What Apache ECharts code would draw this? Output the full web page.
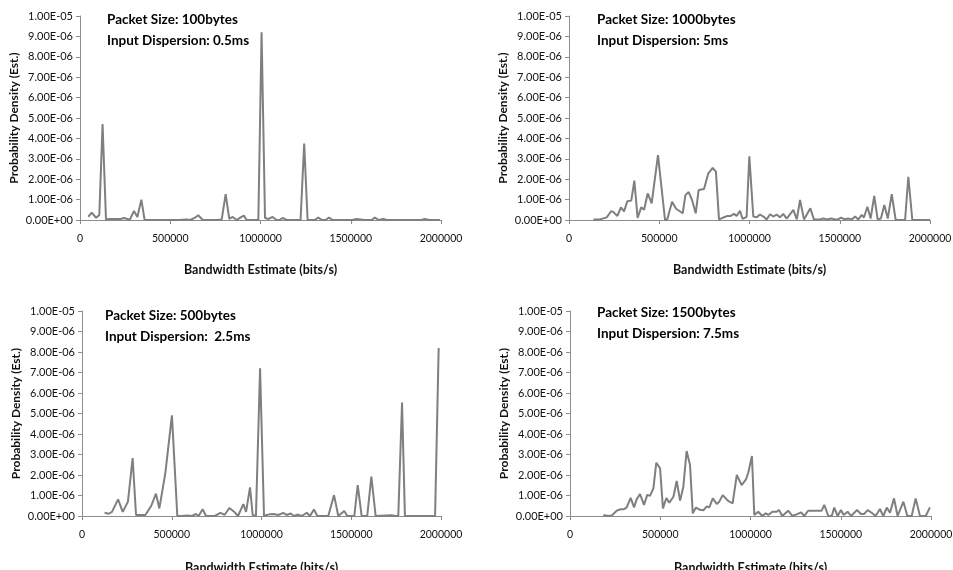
<!DOCTYPE html>
<html>
<head>
<meta charset="utf-8">
<script src="https://cdn.jsdelivr.net/npm/echarts@6/dist/echarts.min.js"></script>
<style>
  html, body { margin: 0; padding: 0; background: #fff; }
  #chart { width: 953px; height: 570px; }
</style>
</head>
<body>
<div id="chart"></div>
<script>
// densities are in units of 1e-6 (axis labels show the real value)
const xTicks = [0, 500000, 1000000, 1500000, 2000000]

const panelLabels = [
  ['Packet Size: 100bytes', 'Input Dispersion: 0.5ms'],
  ['Packet Size: 1000bytes', 'Input Dispersion: 5ms'],
  ['Packet Size: 500bytes', 'Input Dispersion:  2.5ms'],
  ['Packet Size: 1500bytes', 'Input Dispersion: 7.5ms']
]

const pkt100 = [
  [46000, 0.16], [65000, 0.36], [89000, 0.11], [107000, 0.25], [125000, 4.7], [144000, 0.03],
  [165000, 0.05], [185000, 0.05], [205000, 0.05], [225000, 0.05], [244000, 0.1], [262000, 0.05],
  [277000, 0.03], [299000, 0.44], [318000, 0.15], [340000, 1.0], [358000, 0], [400000, 0],
  [450000, 0], [500000, 0], [550000, 0], [591000, 0.03], [610000, 0], [635000, 0.1],
  [655000, 0.23], [680000, 0], [720000, 0], [760000, 0], [785000, 0.03], [807000, 1.27],
  [827000, 0.05], [846000, 0.15], [868000, 0], [888000, 0.12], [908000, 0.22], [923000, 0],
  [988000, 0], [1006000, 9.2], [1025000, 0.1], [1045000, 0.05], [1067000, 0.15], [1089000, 0],
  [1106000, 0], [1122000, 0.1], [1145000, 0], [1222000, 0], [1242000, 3.75], [1261000, 0],
  [1300000, 0], [1320000, 0.12], [1340000, 0], [1360000, 0], [1379000, 0.12], [1400000, 0],
  [1510000, 0], [1532000, 0.05], [1555000, 0.03], [1575000, 0], [1615000, 0], [1634000, 0.12],
  [1655000, 0], [1680000, 0.05], [1700000, 0], [1890000, 0], [1911000, 0.05], [1935000, 0],
  [1994000, 0]
]

const pkt1000 = [
  [135000, 0.03], [172000, 0.03], [209000, 0.13], [233000, 0.43], [245000, 0.4], [268000, 0.2],
  [288000, 0.62], [305000, 0.42], [323000, 0.92], [345000, 0.95], [362000, 1.93], [380000, 0.1],
  [400000, 0.62], [416000, 0.5], [436000, 1.3], [458000, 0.82], [493000, 3.18], [532000, 0],
  [545000, 0.05], [571000, 0.9], [593000, 0.55], [630000, 0.33], [645000, 1.22], [663000, 1.37],
  [681000, 1.0], [702000, 0.33], [718000, 1.47], [748000, 1.52], [772000, 2.29], [796000, 2.56],
  [814000, 2.37], [831000, 0.03], [855000, 0.12], [879000, 0.2], [896000, 0.2], [914000, 0.3],
  [929000, 0.2], [947000, 0.45], [962000, 0.05], [984000, 0.15], [999000, 3.12], [1021000, 0.17],
  [1040000, 0.13], [1058000, 0.27], [1077000, 0.17], [1095000, 0.03], [1114000, 0.28],
  [1132000, 0.17], [1150000, 0.27], [1169000, 0.13], [1187000, 0.3], [1206000, 0.07],
  [1243000, 0.5], [1262000, 0.03], [1280000, 0.98], [1302000, 0.03], [1337000, 0.57],
  [1357000, 0.03], [1390000, 0.03], [1409000, 0.07], [1430000, 0.03], [1452000, 0.07],
  [1475000, 0.03], [1490000, 0.03], [1507000, 0.12], [1525000, 0.04], [1548000, 0.07],
  [1567000, 0.03], [1585000, 0.17], [1603000, 0.03], [1622000, 0.25], [1634000, 0.12],
  [1653000, 0.65], [1671000, 0.07], [1691000, 1.18], [1710000, 0.03], [1728000, 0.07],
  [1747000, 0.73], [1766000, 0.07], [1788000, 1.27], [1810000, 0], [1862000, 0], [1880000, 2.12],
  [1902000, 0], [2000000, 0]
]

const pkt500 = [
  [126000, 0.16], [149000, 0.11], [167000, 0.2], [201000, 0.81], [227000, 0.2], [256000, 0.7],
  [282000, 2.83], [301000, 0.05], [330000, 0.05], [353000, 0.05], [386000, 0.5], [412000, 1.09],
  [431000, 0.37], [464000, 2.08], [501000, 4.91], [531000, 0], [557000, 0], [585000, 0.03],
  [613000, 0], [635000, 0.1], [650000, 0], [672000, 0.33], [691000, 0], [740000, 0],
  [771000, 0.15], [795000, 0.06], [821000, 0.39], [851000, 0.18], [869000, 0], [899000, 0.58],
  [914000, 0.2], [936000, 1.4], [951000, 0.05], [969000, 0], [992000, 7.2], [1014000, 0],
  [1029000, 0.05], [1046000, 0.08], [1066000, 0.1], [1094000, 0.05], [1121000, 0.15],
  [1140000, 0.05], [1163000, 0.12], [1181000, 0], [1200000, 0.07], [1224000, 0],
  [1252000, 0.16], [1270000, 0], [1292000, 0.32], [1311000, 0], [1372000, 0], [1404000, 1.02],
  [1428000, 0], [1461000, 0.24], [1478000, 0], [1517000, 0], [1536000, 1.51], [1558000, 0],
  [1589000, 0], [1612000, 1.92], [1636000, 0], [1725000, 0.04], [1744000, 0], [1762000, 0],
  [1783000, 5.53], [1799000, 0], [1967000, 0], [1987000, 8.2]
]

const pkt1500 = [
  [185000, 0.05], [212000, 0], [231000, 0.02], [259000, 0.26], [281000, 0.33], [299000, 0.33],
  [314000, 0.42], [336000, 0.88], [355000, 0.42], [369000, 0.81], [388000, 1.07], [410000, 0.54],
  [428000, 1.03], [443000, 0.98], [462000, 1.35], [478000, 2.6], [499000, 2.33], [515000, 0.37],
  [534000, 0.88], [550000, 0.65], [573000, 0.94], [591000, 1.71], [610000, 0.75], [628000, 1.43],
  [646000, 3.17], [665000, 2.49], [680000, 0.13], [698000, 0.41], [720000, 0.3], [739000, 0.28],
  [757000, 0.46], [772000, 0.42], [791000, 0.86], [813000, 0.59], [827000, 0.7], [846000, 1.02],
  [868000, 0.81], [883000, 0.7], [901000, 0.62], [924000, 2.0], [933000, 2.05], [951000, 1.51],
  [975000, 1.79], [988000, 2.12], [1008000, 2.93], [1021000, 0.05], [1043000, 0.21],
  [1066000, 0], [1084000, 0.13], [1099000, 0.05], [1121000, 0.21], [1145000, 0.21],
  [1158000, 0.29], [1176000, 0], [1209000, 0.26], [1232000, 0], [1256000, 0.08],
  [1280000, 0.18], [1298000, 0], [1320000, 0.26], [1394000, 0.26], [1409000, 0.54],
  [1431000, 0], [1450000, 0], [1464000, 0.41], [1483000, 0], [1501000, 0.29], [1516000, 0.05],
  [1538000, 0.21], [1557000, 0], [1590000, 0.29], [1612000, 0.1], [1630000, 0.1],
  [1649000, 0.29], [1671000, 0.16], [1693000, 0], [1717000, 0.34], [1736000, 0],
  [1755000, 0.41], [1773000, 0.16], [1795000, 0.86], [1815000, 0], [1847000, 0.7],
  [1869000, 0], [1893000, 0], [1915000, 0.86], [1939000, 0], [1971000, 0], [1994000, 0.42]
]

const seriesData = [pkt100, pkt1000, pkt500, pkt1500]

const grids = [
  { left: 80, right: 512, top: 16, height: 204, outerBoundsMode: 'none' },
  { left: 569, right: 23, top: 16, height: 204, outerBoundsMode: 'none' },
  { left: 82, right: 512, top: 311, height: 205, outerBoundsMode: 'none' },
  { left: 570, right: 22, top: 311, height: 205, outerBoundsMode: 'none' }
]
const labelPos = [[107, 21], [597, 21], [105, 317], [597, 314]]
const xNameGap = [43, 43, 45, 45]

const FONT = 'Lato, "Open Sans", sans-serif'
const axisColor = '#8c8c8c'

function fmtY(v) {
  if (v === 0) return '0.00E+00'
  if (v >= 10) return (v / 10).toFixed(2) + 'E-05'
  return v.toFixed(2) + 'E-06'
}

const chart = echarts.init(document.getElementById('chart'))

const xAxis = grids.map((g, i) => ({
  gridIndex: i,
  type: 'value',
  min: xTicks[0],
  max: xTicks[xTicks.length - 1],
  interval: xTicks[1] - xTicks[0],
  name: 'Bandwidth Estimate (bits/s)',
  nameLocation: 'middle',
  nameGap: xNameGap[i],
  nameTextStyle: { fontFamily: FONT, fontWeight: 'bold', fontSize: 12.5, color: '#111' },
  axisLine: { lineStyle: { color: axisColor, width: 1 } },
  axisTick: { show: true, length: 4, lineStyle: { color: axisColor } },
  axisLabel: { fontFamily: FONT, fontSize: 10.5, color: '#111', margin: 13, formatter: v => String(v) },
  splitLine: { show: false }
}))

const yAxis = grids.map((g, i) => ({
  gridIndex: i,
  type: 'value',
  min: 0,
  max: 10,
  interval: 1,
  name: 'Probability Density (Est.)',
  nameLocation: 'middle',
  nameGap: 60,
  nameTextStyle: { fontFamily: FONT, fontWeight: 'bold', fontSize: 12, color: '#111' },
  axisLine: { show: true, lineStyle: { color: axisColor, width: 1 } },
  axisTick: { show: true, length: 4, lineStyle: { color: axisColor } },
  axisLabel: { fontFamily: FONT, fontSize: 11, color: '#111', margin: 7, formatter: fmtY },
  splitLine: { show: false }
}))

const series = seriesData.map((d, i) => ({
  type: 'line',
  xAxisIndex: i,
  yAxisIndex: i,
  data: d,
  showSymbol: false,
  lineStyle: { color: '#7f7f7f', width: 2 },
  itemStyle: { color: '#7f7f7f' },
  animation: false
}))

const graphic = []
panelLabels.forEach((lines, i) => {
  lines.forEach((t, j) => {
    graphic.push({
      type: 'text',
      left: labelPos[i][0],
      top: labelPos[i][1] + j * 21 - 8,
      style: { text: t, fontFamily: FONT, fontWeight: 'bold', fontSize: 13.5, fill: '#000' }
    })
  })
})

chart.setOption({
  backgroundColor: '#fff',
  animation: false,
  grid: grids,
  xAxis,
  yAxis,
  series,
  graphic
})
</script>
</body>
</html>
